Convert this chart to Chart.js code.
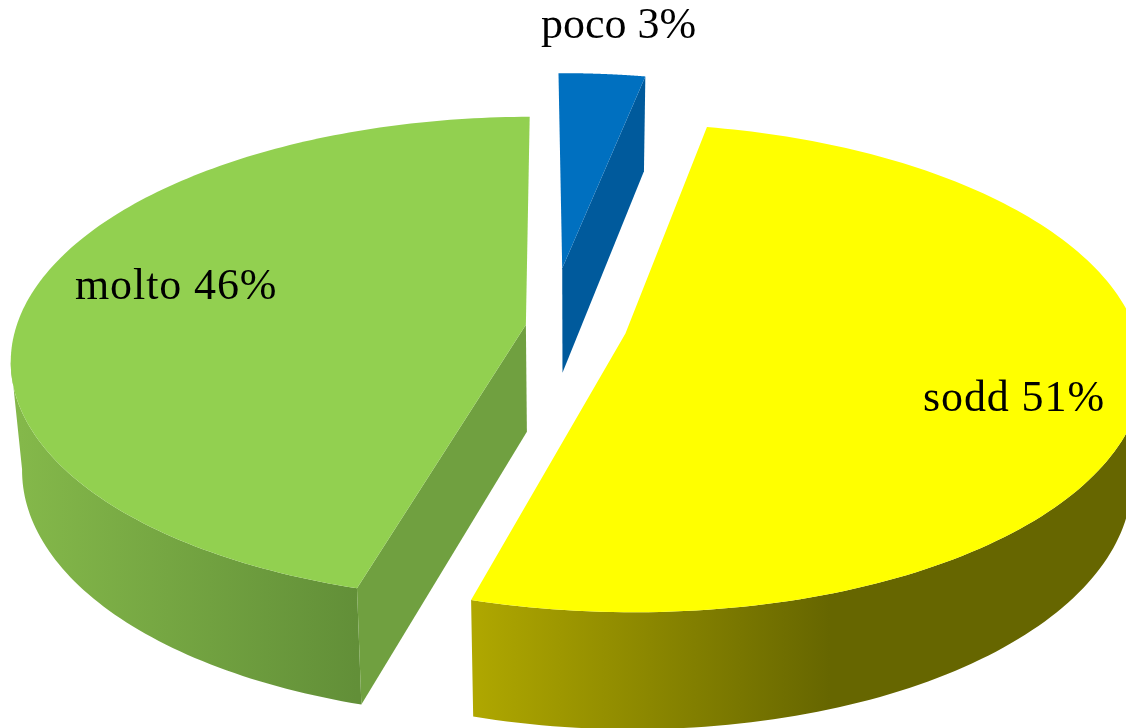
<!DOCTYPE html>
<html>
<head>
<meta charset="utf-8">
<title>poco sodd molto</title>
<script src="https://cdn.jsdelivr.net/npm/chart.js@4"></script>
<style>
    html, body { margin: 0; padding: 0; background: #fff; overflow: hidden; }
    canvas { display: block; }
</style>
</head>
<body>
<canvas id="ChartPie" width="1126" height="728"></canvas>
<script>
var categories = ["poco", "sodd", "molto"];
var shares = [3.2, 51.3, 45.5];
var sliceLabels = ["poco 3%", "sodd 51%", "molto 46%"];

var topColors = ["#0070C0", "#FFFF00", "#92D050"];
var cutColors = ["#005A9C", "#666600", "#70A040"];
var explode = [84, 32, 32];

// where the label text starts (x, baseline), and its tracking
var labelAt = [[541, 38], [923, 411], [75, 299]];
var labelSpacing = ["0px", "0.9px", "0.9px"];
// the small blue slice sits left of its radial position in the reference
var sliceNudge = [-26, 0, 0];
// which straight cut of each slice can be seen from the front
var visibleCut = ["end", "none", "start"];
// outer wall shading, left colour and right colour over an x range
var wallShade = [
    { from: 560, to: 650, left: "#005A9C", right: "#005A9C" },
    { from: 470, to: 830, left: "#B0A800", right: "#666600" },
    { from: 20, to: 357, left: "#84B84A", right: "#628F38" }
];

// perspective of the pie plane, fitted on the reference
var cx = 576, cy = 328, sx = 510, sy = 238, persp = 0.14;

function Project(u, v, nudge) {
    var w = 1 - persp * v;
    return { x: cx + sx * u / w + nudge, y: cy + sy * v / w, w: w };
}

// same point on the underside of the pie
function Lower(pt) {
    return { x: cx + (pt.x - cx) * 0.98, y: pt.y + 107 - 70 * (pt.w - 1) };
}

function FillPath(ctx, points, color) {
    ctx.beginPath();
    ctx.moveTo(points[0].x, points[0].y);
    for (var i = 1; i < points.length; i++) {
        ctx.lineTo(points[i].x, points[i].y);
    }
    ctx.closePath();
    ctx.fillStyle = color;
    ctx.fill();
}

function DrawSlice(ctx, arc, index) {
    var mid = (arc.startAngle + arc.endAngle) / 2;
    var shift = arc.options.offset / arc.outerRadius;
    var ou = Math.cos(mid) * shift;
    var ov = Math.sin(mid) * shift;
    var nudge = sliceNudge[index];

    var apex = Project(ou, ov, nudge);
    var rim = [];
    var front = [];
    var steps = 160;
    for (var i = 0; i <= steps; i++) {
        var t = arc.startAngle + (arc.endAngle - arc.startAngle) * i / steps;
        var pt = Project(ou + Math.cos(t), ov + Math.sin(t), nudge);
        rim.push(pt);
        // only the part of the rim between the side extremes has a visible wall
        if (Math.sin(t) >= persp) {
            front.push(pt);
        }
    }

    // outer wall
    if (front.length > 1) {
        var shade = wallShade[index];
        var gradient = ctx.createLinearGradient(shade.from, 0, shade.to, 0);
        gradient.addColorStop(0, shade.left);
        gradient.addColorStop(1, shade.right);
        FillPath(ctx, front.concat(front.map(Lower).reverse()), gradient);
    }

    // cut face
    if (visibleCut[index] !== "none") {
        var edge = visibleCut[index] === "start" ? rim[0] : rim[steps];
        FillPath(ctx, [apex, edge, Lower(edge), Lower(apex)], cutColors[index]);
    }

    // top face
    FillPath(ctx, [apex].concat(rim), arc.options.backgroundColor);
}

var pie3d = {
    id: "pie3d",
    beforeDatasetsDraw: function (chart) {
        var ctx = chart.ctx;
        var arcs = chart.getDatasetMeta(0).data;
        ctx.save();
        arcs.forEach(function (arc, index) {
            DrawSlice(ctx, arc, index);
        });
        ctx.fillStyle = "#000";
        ctx.font = "44px 'Liberation Serif'";
        ctx.textBaseline = "alphabetic";
        sliceLabels.forEach(function (text, index) {
            ctx.letterSpacing = labelSpacing[index];
            ctx.fillText(text, labelAt[index][0], labelAt[index][1]);
        });
        ctx.restore();
        return false;
    }
};

new Chart(document.getElementById("ChartPie"), {
    type: "pie",
    data: {
        labels: categories,
        datasets: [{
            data: shares,
            backgroundColor: topColors,
            borderWidth: 0,
            offset: explode
        }]
    },
    options: {
        responsive: false,
        animation: false,
        rotation: -0.3,
        plugins: {
            legend: { display: false },
            tooltip: { enabled: false }
        }
    },
    plugins: [pie3d]
});
</script>
</body>
</html>
